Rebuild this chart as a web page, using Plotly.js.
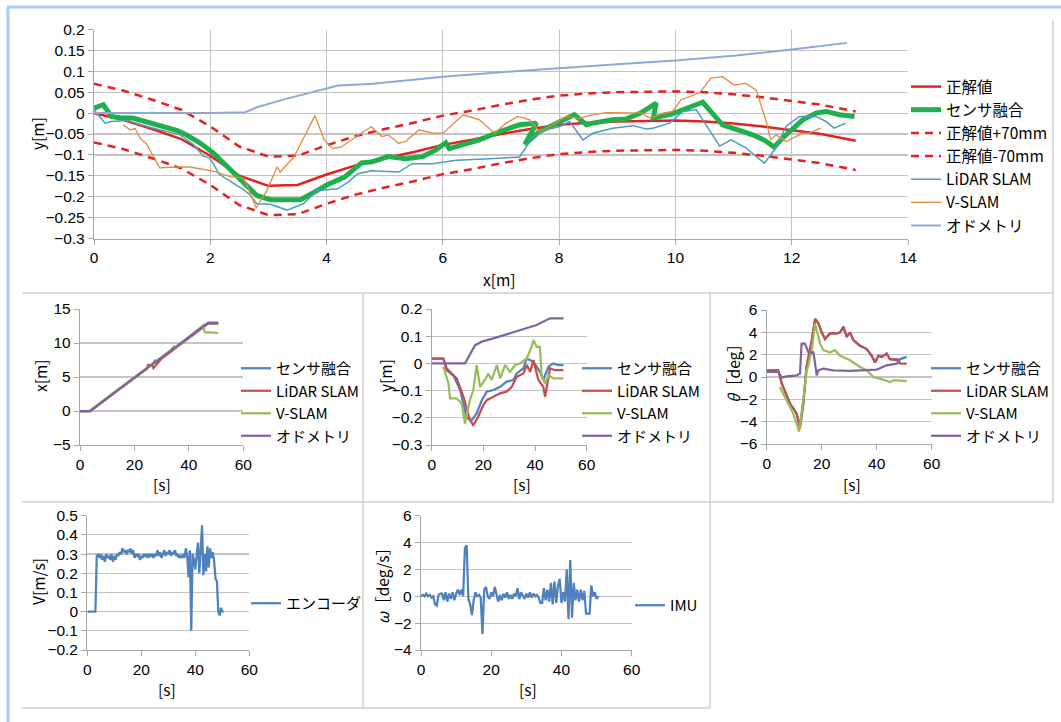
<!DOCTYPE html>
<html><head><meta charset="utf-8">
<script src="https://cdn.plot.ly/plotly-3.0.1.min.js"></script>
<style>html,body{margin:0;padding:0;background:#fff}#g{width:1061px;height:722px}</style>
</head><body><div id="g"></div>
<script>
// ===== Top chart: trajectory y vs x =====
const truthX = [0,0.5,1,1.5,2,2.5,3,3.5,4,4.5,5,5.5,6,6.5,7,7.5,8,8.5,9,9.5,10,10.5,11,11.5,12,12.5,13.1];
const truthY = [0,-0.016,-0.038,-0.062,-0.102,-0.15,-0.174,-0.172,-0.147,-0.125,-0.108,-0.093,-0.076,-0.064,-0.05,-0.038,-0.028,-0.023,-0.02,-0.019,-0.018,-0.02,-0.025,-0.032,-0.041,-0.05,-0.066];
const plus70Y = [0.07,0.054,0.032,0.008,-0.032,-0.08,-0.104,-0.102,-0.077,-0.055,-0.038,-0.023,-0.006,0.006,0.02,0.032,0.042,0.047,0.05,0.051,0.052,0.05,0.045,0.038,0.029,0.02,0.004];
const minus70Y = [-0.07,-0.086,-0.108,-0.132,-0.172,-0.22,-0.244,-0.242,-0.217,-0.195,-0.178,-0.163,-0.146,-0.134,-0.12,-0.108,-0.098,-0.093,-0.09,-0.089,-0.088,-0.09,-0.095,-0.102,-0.111,-0.12,-0.136];
const fusionX = [0,0.16,0.3,0.5,0.67,0.91,1.13,1.42,1.59,1.82,2.05,2.28,2.51,2.68,2.8,3.03,3.38,3.55,3.79,4.02,4.31,4.6,4.77,5.06,5.36,5.65,5.88,6.05,6.11,6.4,6.63,6.98,7.32,7.61,7.41,7.66,7.95,8.26,8.47,8.58,8.92,9.15,9.4,9.55,9.67,9.62,9.95,10.24,10.47,10.81,11.1,11.33,11.53,11.7,11.84,11.96,12.07,12.19,12.42,12.59,12.82,13.08];
const fusionY = [0.012,0.02,-0.008,-0.012,-0.012,-0.021,-0.028,-0.041,-0.052,-0.071,-0.095,-0.127,-0.159,-0.183,-0.197,-0.207,-0.209,-0.207,-0.189,-0.171,-0.153,-0.119,-0.117,-0.104,-0.109,-0.104,-0.088,-0.071,-0.085,-0.074,-0.064,-0.044,-0.028,-0.024,-0.075,-0.044,-0.024,-0.004,-0.028,-0.024,-0.016,-0.014,0.0,0.012,0.024,-0.012,-0.002,0.014,0.026,-0.028,-0.04,-0.052,-0.065,-0.081,-0.06,-0.044,-0.028,-0.016,0.0,0.004,-0.004,-0.008];
const lidarX = [0,0.19,0.3,0.56,0.91,1.25,1.48,1.71,1.88,1.99,2.16,2.34,2.57,2.68,2.8,3.03,3.32,3.6,3.84,4.19,4.37,4.54,4.77,5.24,5.47,5.82,6.23,6.81,7.32,7.55,7.78,8.01,8.18,8.41,8.58,8.92,9.27,9.5,9.61,9.9,10.13,10.36,10.53,10.76,10.96,11.21,11.53,11.73,11.9,12.13,12.42,12.59,12.73,12.93];
const lidarY = [0.008,-0.024,-0.02,-0.018,-0.032,-0.044,-0.052,-0.075,-0.103,-0.107,-0.147,-0.163,-0.183,-0.195,-0.217,-0.218,-0.232,-0.217,-0.185,-0.181,-0.165,-0.145,-0.138,-0.141,-0.121,-0.121,-0.113,-0.109,-0.105,-0.056,-0.04,-0.032,-0.02,-0.064,-0.048,-0.036,-0.03,-0.038,-0.036,-0.024,0.004,0.008,-0.028,-0.079,-0.064,-0.083,-0.12,-0.083,-0.032,-0.008,-0.008,-0.02,-0.036,-0.024];
const vslamX = [0.5,0.62,0.71,0.79,0.91,1.13,1.42,1.65,2.05,2.34,2.57,2.62,2.79,2.97,3.15,3.2,3.44,3.8,3.96,4.11,4.25,4.48,4.77,4.95,5.06,5.24,5.36,5.59,5.82,6.0,6.35,6.63,6.89,7.09,7.29,7.49,7.66,7.84,8.12,8.35,8.58,8.81,9.15,9.44,9.5,9.58,9.78,9.95,10.1,10.41,10.61,10.81,11.01,11.21,11.39,11.56,11.64,11.73,11.9,12.02,12.19,12.3,12.5];
const vslamY = [-0.028,-0.04,-0.037,-0.06,-0.075,-0.131,-0.129,-0.129,-0.139,-0.152,-0.155,-0.169,-0.227,-0.186,-0.129,-0.141,-0.105,-0.006,-0.064,-0.085,-0.081,-0.06,-0.032,-0.056,-0.052,-0.072,-0.068,-0.04,-0.048,-0.048,-0.004,-0.016,-0.048,-0.024,-0.008,-0.016,-0.044,-0.032,-0.008,-0.012,-0.004,0.001,0.001,0.0,-0.008,-0.012,0.0,0.004,0.032,0.048,0.083,0.087,0.067,0.071,0.055,-0.02,-0.064,-0.052,-0.068,-0.06,-0.048,-0.048,-0.036];
const odoX = [0,1,2,2.6,2.8,3.3,3.6,4.0,4.2,4.8,6.0,7.0,8.0,9.0,10.0,11.0,12.0,12.95];
const odoY = [0,0,0,0.002,0.014,0.034,0.045,0.06,0.066,0.07,0.087,0.098,0.108,0.117,0.126,0.137,0.152,0.168];
const topYTicks = [0.2,0.15,0.1,0.05,0,-0.05,-0.1,-0.15,-0.2,-0.25,-0.3];
const topYTickText = ['0.2','0.15','0.1','0.05','0','\u22120.05','\u22120.1','\u22120.15','\u22120.2','\u22120.25','\u22120.3'];

// ===== x vs time =====
const xtOdoT = [0,3.7,10,20,30,40,47.1,50.8];
const xtOdo  = [0,0,1.9,4.9,7.8,10.8,13.0,13.0];
const xtFusT = [0,3.7,10,20,25,27,27.5,28,30,35,40,45,47.1,50.8];
const xtFus  = [0,0,1.9,4.9,6.4,7.0,7.5,7.1,7.8,9.3,10.8,12.3,12.9,12.9];
const xtLidT = [0,3.7,10,20,24.5,25,26.5,27,30,35,40,45,47.1,50.8];
const xtLid  = [0,0,1.85,4.85,6.2,6.8,6.8,6.3,7.7,9.2,10.7,12.2,12.9,12.9];
const xtVsT  = [0,3.7,10,20,30,33.5,34.5,35,40,45.3,45.8,50.8];
const xtVs   = [0,0,2.0,5.0,8.0,9.0,9.5,9.3,10.9,12.6,11.6,11.5];

// ===== y vs time =====
const ytOdoT = [0,12.9,16.8,19.4,23.9,30.3,36.8,40.6,45.8,51];
const ytOdo  = [0,0,0.067,0.08,0.092,0.11,0.129,0.141,0.166,0.166];
const ytFusT = [0,4.5,5.8,8.4,11,13.5,15.5,17.4,19.4,21.3,23.9,26.5,29,31.6,32.9,35.5,36.8,39.4,41.9,43.2,45.2,47.1,49,51];
const ytFus  = [0.018,0.018,-0.018,-0.043,-0.098,-0.2,-0.209,-0.184,-0.135,-0.104,-0.098,-0.086,-0.067,-0.061,-0.037,-0.018,0.018,0.006,-0.031,-0.061,-0.012,0,-0.006,-0.006];
const ytLidT = [0,4.5,5.8,9.7,12.3,14.8,16.1,18,20,21.3,23.9,26.5,29,31,32.9,35.5,36.8,38.1,39.4,41.3,43.2,43.9,45.8,47.7,51];
const ytLid  = [0.018,0.018,-0.025,-0.055,-0.123,-0.209,-0.227,-0.196,-0.153,-0.135,-0.123,-0.11,-0.104,-0.086,-0.049,-0.037,-0.006,-0.031,0.012,-0.061,-0.086,-0.123,-0.018,-0.025,-0.025];
const ytVsT  = [4.5,6.5,7.1,9.7,11.6,12.9,14.8,16.1,17.4,18.7,20.6,21.9,23.2,25.2,26.5,28.4,30.3,32.3,34.2,36.8,38.7,39.4,40.6,41.9,42.6,43.9,45.2,47.1,51];
const ytVs   = [-0.012,-0.074,-0.129,-0.129,-0.147,-0.221,-0.135,-0.098,-0.006,-0.086,-0.061,-0.037,-0.061,-0.006,-0.055,-0.006,-0.031,-0.006,0,0.018,0.061,0.086,0.061,0.061,-0.049,-0.074,-0.043,-0.055,-0.055];

// ===== theta vs time =====
const thLidT = [0,4.2,5.5,8.5,9.7,10.9,12.1,13.3,14.5,16.4,17.6,18.8,20,21.2,23,25.5,26.7,27.9,29.1,30.3,31.5,33.9,36.4,38.2,39.4,40.6,41.8,43.6,44.8,47.3,48.5,50.9];
const thLid  = [0.6,0.6,-0.6,-2.4,-2.8,-3.3,-4.5,-2.4,0.9,3.3,5.2,4.8,4.0,3.4,3.9,3.9,4.0,4.5,3.6,4.0,3.3,2.8,2.5,1.9,1.3,1.9,1.8,2.1,1.6,1.6,1.2,1.2];
const thFusT = [0,4.2,5.5,8.5,9.7,10.9,12.1,13.3,14.5,16.4,17.6,18.8,20,21.2,23,25.5,26.7,27.9,29.1,30.3,31.5,33.9,36.4,38.2,39.4,40.6,41.8,43.6,44.8,47.3,48.5,50.9];
const thFus  = [0.6,0.6,-0.6,-2.4,-2.8,-3.3,-4.5,-2.4,0.9,3.3,5.2,4.8,4.0,3.4,3.9,3.9,4.0,4.5,3.6,4.0,3.3,2.8,2.5,1.9,1.3,1.9,1.8,2.1,1.6,1.5,1.6,1.8];
const thVsT  = [4.8,7.3,9.7,11.8,13.3,14.5,16.4,17.6,19.4,20.6,23,24.8,26.7,30.3,33.9,36.4,38.8,41.2,44.8,46.1,47.3,50.9];
const thVs   = [-0.9,-2.1,-3.3,-4.9,-2.1,0.45,2.4,4.8,3.0,2.4,2.2,2.4,1.9,1.5,0.9,0.6,0,-0.15,-0.45,-0.3,-0.3,-0.36];
const thOdoT = [0,4.2,5.5,7.3,10.9,12.1,12.7,13.9,15.2,17,18.2,18.8,20.6,24.2,30.3,36.4,40,43.6,47.3,48.5];
const thOdo  = [0.45,0.45,-0.06,0.06,0.15,0.3,3.0,3.0,2.2,2.2,0.15,0.6,0.75,0.6,0.54,0.6,0.66,1.05,1.2,1.5];

// ===== Encoder velocity =====
const encT = [0,0.5,1,1.5,2,2.5,3,3.5,4,4.5,5,5.5,6,6.5,7,7.5,8,8.5,9,9.5,10,10.5,11,11.5,12,12.5,13,13.5,14,14.5,15,15.5,16,16.5,17,17.5,18,18.5,19,19.5,20,20.5,21,21.5,22,22.5,23,23.5,24,24.5,25,25.5,26,26.5,27,27.5,28,28.5,29,29.5,30,30.5,31,31.5,32,32.5,33,33.5,34,34.5,35,35.5,36,36.5,37,37.5,38,38.5,39,39.5,40,40.5,41,41.5,42,42.5,43,43.5,44,44.5,45,45.5,46,46.5,47,47.5,48,48.5,49,49.5,50,50.5];
const encV = [0,0,0,0,0,0,0,0.29,0.3,0.28,0.3,0.27,0.29,0.26,0.3,0.28,0.29,0.27,0.3,0.26,0.29,0.27,0.3,0.29,0.31,0.3,0.33,0.31,0.32,0.3,0.32,0.31,0.33,0.3,0.32,0.28,0.3,0.29,0.3,0.27,0.29,0.28,0.3,0.29,0.3,0.28,0.3,0.29,0.3,0.28,0.3,0.29,0.32,0.29,0.31,0.28,0.3,0.32,0.29,0.31,0.3,0.32,0.29,0.31,0.3,0.32,0.29,0.3,0.28,0.29,0.28,0.3,0.28,0.33,0.29,0.18,0.32,-0.1,0.3,0.27,0.22,0.3,0.36,0.2,0.33,0.45,0.19,0.3,0.21,0.34,0.23,0.33,0.28,0.31,0.26,0.17,0.16,0.0,-0.02,0.02,0.0,0.0];

// ===== IMU angular rate =====
const imuT = encT;
const imuW = [0,0.1,0,0.2,0,0.1,-0.1,0,-0.6,-0.7,0.1,0.2,0.2,-0.3,0.3,-0.4,0.2,-0.2,0.3,-0.3,0.2,0.5,0.1,0.5,0,3.6,3.8,-0.2,-0.6,-1.4,-0.3,0.3,0,0.1,-0.1,-2.8,0.5,0.7,0,-0.2,0.3,0,0.7,0.1,-0.4,0.1,-0.3,0.2,-0.1,0.3,-0.2,0.1,-0.2,0.2,0,0.6,-0.2,0.3,0,-0.2,0.2,-0.1,0.3,-0.1,0.2,0,0.1,-0.1,-0.5,-0.5,0.6,-0.3,0.5,-0.4,1.0,-0.6,1.1,-0.5,0.8,1.3,-0.5,0.3,-0.4,2.0,-1.7,2.7,-1.6,1.0,-0.3,0.5,-0.4,0.5,-0.3,0.4,-1.3,-1.3,-1.3,0.8,0,0.3,-0.2,0];

const midTicks = [0,20,40,60];

// ===== layout helpers (pixel -> paper) =====
const W = 1061, H = 722;
const PX = p => p / W, PY = p => 1 - p / H;
const FONT = 'Liberation Sans, Noto Sans CJK JP, sans-serif';
const JFONT = 'Noto Sans CJK JP, Liberation Sans, sans-serif';
const TXT = '#000';
const GRID = '#c4c4c4', AXL = '#a6a6a6';

const C = {blue:'#4f81bd', red:'#c0504d', green:'#9bbb59', purple:'#8064a2'};

function tr(x, y, name, color, width, xa, ya, lg, grp, dash) {
  return {type:'scatter', mode:'lines', x, y, name, xaxis:xa, yaxis:ya, legend:lg,
    legendgroup:grp, line:{color, width, dash: dash || 'solid'}, hoverinfo:'skip'};
}

const data = [
  tr(truthX, truthY, '正解値', '#e3211e', 2.5, 'x', 'y', 'legend', 'g1'),
  tr(fusionX, fusionY, 'センサ融合', '#1faf4b', 5, 'x', 'y', 'legend', 'g2'),
  tr(truthX, plus70Y, '正解値+70mm', '#e3211e', 2.5, 'x', 'y', 'legend', 'g3', '8px,6px'),
  tr(truthX, minus70Y, '正解値-70mm', '#e3211e', 2.5, 'x', 'y', 'legend', 'g4', '8px,6px'),
  tr(lidarX, lidarY, 'LiDAR SLAM', '#4b9dbd', 1.5, 'x', 'y', 'legend', 'g5'),
  tr(vslamX, vslamY, 'V-SLAM', '#e08a3a', 1.3, 'x', 'y', 'legend', 'g6'),
  tr(odoX, odoY, 'オドメトリ', '#8ea9d8', 2, 'x', 'y', 'legend', 'g7'),

  tr(xtFusT, xtFus, 'センサ融合', C.blue, 2.25, 'x2', 'y2', 'legend2', 'm1'),
  tr(xtLidT, xtLid, 'LiDAR SLAM', C.red, 2.25, 'x2', 'y2', 'legend2', 'm2'),
  tr(xtVsT, xtVs, 'V-SLAM', C.green, 2.25, 'x2', 'y2', 'legend2', 'm3'),
  tr(xtOdoT, xtOdo, 'オドメトリ', C.purple, 2.25, 'x2', 'y2', 'legend2', 'm4'),

  tr(ytFusT, ytFus, 'センサ融合', C.blue, 2.25, 'x3', 'y3', 'legend3', 'n1'),
  tr(ytLidT, ytLid, 'LiDAR SLAM', C.red, 2.25, 'x3', 'y3', 'legend3', 'n2'),
  tr(ytVsT, ytVs, 'V-SLAM', C.green, 2.25, 'x3', 'y3', 'legend3', 'n3'),
  tr(ytOdoT, ytOdo, 'オドメトリ', C.purple, 2.25, 'x3', 'y3', 'legend3', 'n4'),

  tr(thFusT, thFus, 'センサ融合', C.blue, 2.25, 'x4', 'y4', 'legend4', 'p1'),
  tr(thLidT, thLid, 'LiDAR SLAM', C.red, 2.25, 'x4', 'y4', 'legend4', 'p2'),
  tr(thVsT, thVs, 'V-SLAM', C.green, 2.25, 'x4', 'y4', 'legend4', 'p3'),
  tr(thOdoT, thOdo, 'オドメトリ', C.purple, 2.25, 'x4', 'y4', 'legend4', 'p4'),

  tr(encT, encV, 'エンコーダ', C.blue, 2.25, 'x5', 'y5', 'legend5', 'q1'),
  tr(imuT, imuW, 'IMU', C.blue, 2.25, 'x6', 'y6', 'legend6', 'r1')
];

function xax(d, range, tickvals, grid, fs) {
  return {domain:[PX(d[0]), PX(d[1])], range, tickmode:'array', tickvals, showgrid:grid,
    gridcolor:GRID, gridwidth:1.2, zeroline:false, showline:true, linecolor:AXL, linewidth:1.2,
    ticks:'outside', ticklen:5, tickcolor:AXL, tickfont:{family:FONT, size:fs || 15.5, color:TXT}, fixedrange:true};
}
function yax(d, range, tickvals, ticktext, anchor, fs) {
  const o = {domain:[PY(d[1]), PY(d[0])], range, tickmode:'array', tickvals, showgrid:true,
    gridcolor:GRID, gridwidth:1.2, zeroline:false, showline:true, linecolor:AXL, linewidth:1.2,
    ticks:'outside', ticklen:5, tickcolor:AXL, tickfont:{family:FONT, size:fs || 15.5, color:TXT}, fixedrange:true, anchor};
  if (ticktext) o.ticktext = ticktext;
  return o;
}
function leg(xp, yp, fs) {
  return {x:PX(xp), y:PY(yp), xanchor:'left', yanchor:'top', bgcolor:'rgba(0,0,0,0)',
    borderwidth:0, font:{family:JFONT, size:fs, color:TXT}, itemwidth:30,
    traceorder:'grouped', tracegroupgap:0, itemclick:false, itemdoubleclick:false};
}
const ax = (text, xp, yp, rot) => ({text, x:PX(xp), y:PY(yp), xref:'paper', yref:'paper',
  showarrow:false, textangle:rot ? -90 : 0, font:{family:JFONT, size:15.5, color:TXT}, xanchor:'center', yanchor:'middle'});
const ln = (x0, y0, x1, y1, color, w) => ({type:'line', xref:'paper', yref:'paper',
  x0:PX(x0), y0:PY(y0), x1:PX(x1), y1:PY(y1), line:{color, width:w}});

const layout = {
  width:W, height:H, margin:{l:0, r:0, t:0, b:0}, paper_bgcolor:'#fff', plot_bgcolor:'rgba(0,0,0,0)',
  showlegend:true,
  xaxis: xax([94, 908], [0, 14], [0,2,4,6,8,10,12,14], true),
  yaxis: yax([29.5, 238.5], [-0.3, 0.2], topYTicks, topYTickText, 'x'),
  xaxis2: Object.assign(xax([80, 243.3], [0, 60], midTicks, false), {anchor:'y2'}),
  yaxis2: yax([309, 445], [-5, 15], [-5,0,5,10,15], ['\u22125','0','5','10','15'], 'x2'),
  xaxis3: Object.assign(xax([431.7, 586.7], [0, 60], midTicks, false), {anchor:'y3'}),
  yaxis3: yax([309, 445], [-0.3, 0.2], [-0.3,-0.2,-0.1,0,0.1,0.2], ['\u22120.3','\u22120.2','\u22120.1','0','0.1','0.2'], 'x3'),
  xaxis4: Object.assign(xax([766.7, 931.7], [0, 60], midTicks, false), {anchor:'y4'}),
  yaxis4: yax([310, 444], [-6, 6], [-6,-4,-2,0,2,4,6], ['\u22126','\u22124','\u22122','0','2','4','6'], 'x4'),
  xaxis5: Object.assign(xax([87.3, 249.3], [0, 60], midTicks, false), {anchor:'y5'}),
  yaxis5: yax([515.7, 650], [-0.2, 0.5], [-0.2,-0.1,0,0.1,0.2,0.3,0.4,0.5], ['\u22120.2','\u22120.1','0','0.1','0.2','0.3','0.4','0.5'], 'x5'),
  xaxis6: Object.assign(xax([421, 631.7], [0, 60], midTicks, false), {anchor:'y6'}),
  yaxis6: yax([515.7, 650], [-4, 6], [-4,-2,0,2,4,6], ['\u22124','\u22122','0','2','4','6'], 'x6'),
  legend: leg(906, 70, 15.5),
  legend2: leg(236, 352, 15),
  legend3: leg(577, 352, 15),
  legend4: leg(926, 352, 15),
  legend5: leg(246, 587, 15),
  legend6: leg(630, 589, 15),
  annotations: [
    ax('y[m]', 37, 134, true), ax('x[m]', 499, 279),
    ax('x[m]', 40, 376, true), ax('[s]', 162, 484),
    ax('y[m]', 385, 376, true), ax('[s]', 522, 484),
    ax('<i>θ</i>［deg］', 733, 370, true), ax('[s]', 852, 484),
    ax('V[m/s]', 38, 582, true), ax('[s]', 167, 689),
    ax('<i>ω</i>［deg/s］', 382, 582, true), ax('[s]', 528, 689)
  ],
  shapes: [
    ln(8, 7, 8, 722, '#a7cdf3', 3), ln(7, 7, 1061, 7, '#a7cdf3', 3),
    ln(22, 293, 1053, 293, '#cfcfcf', 1.5),
    ln(1053, 20, 1053, 502, '#cfcfcf', 1.5),
    ln(363, 293, 363, 708, '#cfcfcf', 1.5),
    ln(710, 293, 710, 708, '#cfcfcf', 1.5),
    ln(22, 502, 1053, 502, '#cfcfcf', 1.5),
    ln(22, 708, 710, 708, '#cfcfcf', 1.5)
  ]
};

Plotly.newPlot('g', data, layout, {staticPlot:true, displayModeBar:false});
</script></body></html>
